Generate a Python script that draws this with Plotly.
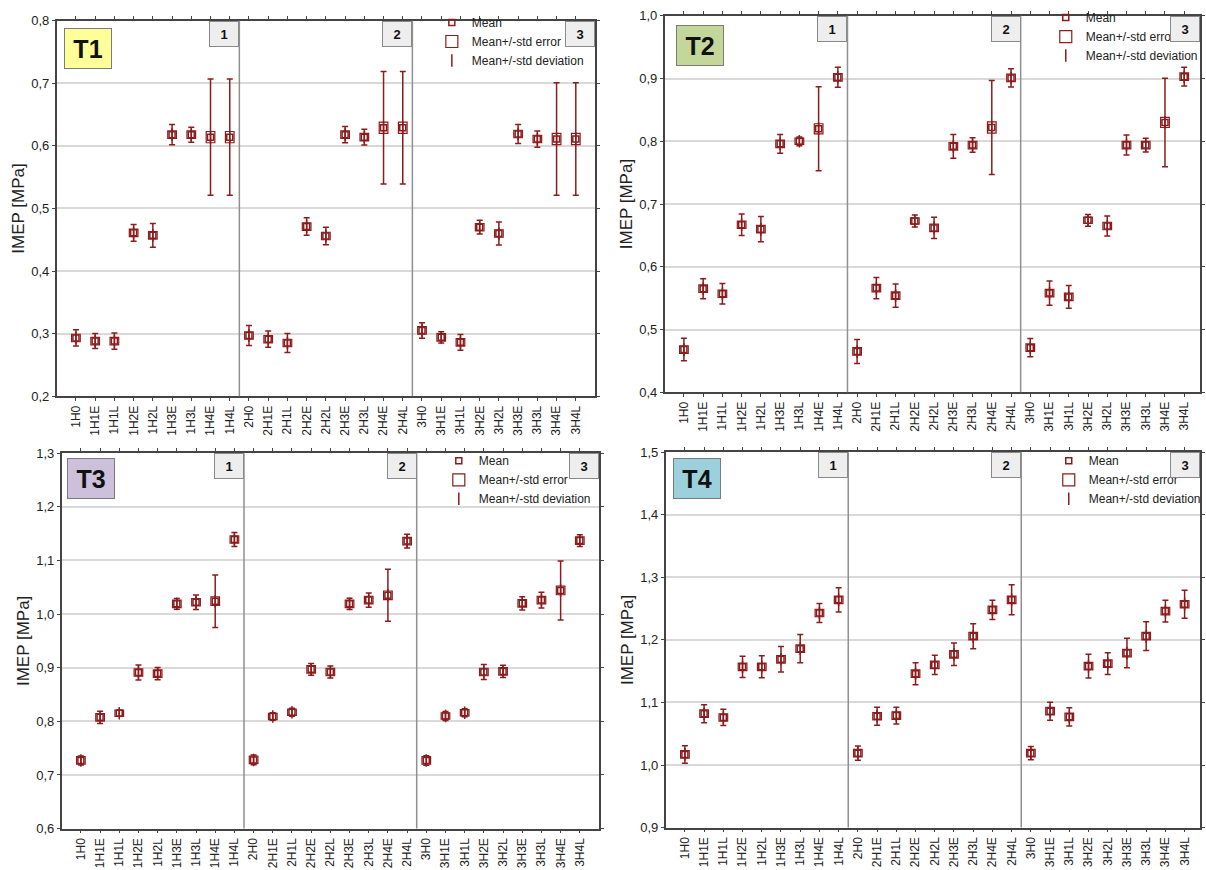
import plotly.graph_objects as go

categories = ["1H0", "1H1E", "1H1L", "1H2E", "1H2L", "1H3E", "1H3L", "1H4E", "1H4L",
              "2H0", "2H1E", "2H1L", "2H2E", "2H2L", "2H3E", "2H3L", "2H4E", "2H4L",
              "3H0", "3H1E", "3H1L", "3H2E", "3H2L", "3H3E", "3H3L", "3H4E", "3H4L"]
positions = list(range(27))
group_labels = ["1", "2", "3"]
panel_names = ["T1", "T2", "T3", "T4"]
panel_colors = ["#FFFF99", "#C4D79B", "#CCC0DA", "#9BD0DC"]
legend_names = ["Mean", "Mean+/-std error", "Mean+/-std deviation"]

t1_mean = [0.293, 0.288, 0.288, 0.461, 0.457, 0.618, 0.618, 0.614, 0.614,
           0.297, 0.291, 0.285, 0.471, 0.456, 0.618, 0.614, 0.629, 0.629,
           0.305, 0.294, 0.286, 0.470, 0.460, 0.619, 0.611, 0.611, 0.611]
t1_sd = [0.013, 0.012, 0.013, 0.0135, 0.019, 0.016, 0.012, 0.093, 0.093,
         0.016, 0.013, 0.015, 0.014, 0.014, 0.013, 0.0125, 0.090, 0.090,
         0.0125, 0.009, 0.0125, 0.011, 0.0185, 0.015, 0.013, 0.090, 0.090]
t1_se = [0.006, 0.006, 0.006, 0.006, 0.006, 0.006, 0.006, 0.009, 0.009,
         0.006, 0.006, 0.006, 0.006, 0.006, 0.006, 0.006, 0.009, 0.009,
         0.006, 0.006, 0.006, 0.006, 0.006, 0.006, 0.006, 0.009, 0.009]

t2_mean = [0.468, 0.565, 0.557, 0.667, 0.660, 0.796, 0.800, 0.820, 0.902,
           0.465, 0.566, 0.554, 0.673, 0.662, 0.792, 0.794, 0.822, 0.901,
           0.471, 0.558, 0.552, 0.674, 0.665, 0.794, 0.794, 0.830, 0.903]
t2_sd = [0.018, 0.016, 0.0165, 0.017, 0.020, 0.015, 0.007, 0.067, 0.016,
         0.019, 0.017, 0.0185, 0.0095, 0.017, 0.019, 0.0115, 0.075, 0.0145,
         0.0145, 0.0195, 0.018, 0.0095, 0.016, 0.016, 0.011, 0.0705, 0.015]
t2_se = [0.006, 0.006, 0.006, 0.006, 0.006, 0.006, 0.005, 0.008, 0.006,
         0.006, 0.006, 0.006, 0.005, 0.006, 0.006, 0.006, 0.009, 0.006,
         0.006, 0.006, 0.006, 0.005, 0.006, 0.006, 0.006, 0.008, 0.006]

t3_mean = [0.727, 0.8075, 0.815, 0.891, 0.889, 1.019, 1.022, 1.024, 1.139,
           0.728, 0.809, 0.817, 0.897, 0.892, 1.019, 1.026, 1.035, 1.136,
           0.727, 0.810, 0.816, 0.892, 0.893, 1.020, 1.026, 1.044, 1.137]
t3_sd = [0.0085, 0.0115, 0.0055, 0.014, 0.0115, 0.010, 0.0135, 0.049, 0.013,
         0.009, 0.007, 0.0075, 0.011, 0.011, 0.0105, 0.0135, 0.0485, 0.013,
         0.009, 0.0085, 0.0075, 0.014, 0.0115, 0.0125, 0.0145, 0.055, 0.011]
t3_se = [0.007, 0.007, 0.006, 0.007, 0.007, 0.007, 0.007, 0.008, 0.007,
         0.007, 0.006, 0.006, 0.007, 0.007, 0.007, 0.007, 0.008, 0.007,
         0.007, 0.006, 0.006, 0.007, 0.007, 0.007, 0.007, 0.008, 0.007]

t4_mean = [1.017, 1.082, 1.076, 1.157, 1.157, 1.169, 1.186, 1.243, 1.264,
           1.019, 1.078, 1.079, 1.146, 1.160, 1.177, 1.206, 1.248, 1.264,
           1.019, 1.086, 1.077, 1.158, 1.162, 1.179, 1.206, 1.246, 1.257]
t4_sd = [0.014, 0.0145, 0.013, 0.017, 0.0175, 0.0205, 0.0225, 0.015, 0.0195,
         0.0115, 0.0145, 0.0135, 0.0175, 0.0155, 0.018, 0.020, 0.0155, 0.024,
         0.0105, 0.0145, 0.0145, 0.019, 0.0175, 0.0235, 0.023, 0.0175, 0.0225]
t4_se = [0.006, 0.006, 0.006, 0.006, 0.006, 0.006, 0.006, 0.006, 0.006,
         0.006, 0.006, 0.006, 0.006, 0.006, 0.006, 0.006, 0.006, 0.006,
         0.006, 0.006, 0.006, 0.006, 0.006, 0.006, 0.006, 0.006, 0.006]

y_ranges = [[0.2, 0.8], [0.4, 1.0], [0.6, 1.3], [0.9, 1.5]]
x_ranges = [[-1, 27], [-1, 26.82], [-1, 27], [-1, 26.8]]

W, H = 1206, 870
# plot areas in pixels: (left, right, top, bottom)
boxes = [(57, 598, 14, 396), (668, 1206, 9, 392), (62, 602, 454, 836), (669, 1206, 453, 835)]
legend_pos = [(434, 1), (1051, -4), (441, 447), (1054, 447)]
tbox_pos = [(64, 21), (679, 18), (67, 459), (676, 459)]

DARK = "#8c1c1c"
FONT = "Arial, Liberation Sans, sans-serif"

data = [(t1_mean, t1_sd, t1_se), (t2_mean, t2_sd, t2_se),
        (t3_mean, t3_sd, t3_se), (t4_mean, t4_sd, t4_se)]

fig = go.Figure()
shapes = []
annotations = []
layout = dict(
    width=W, height=H, margin=dict(l=0, r=0, t=0, b=0),
    paper_bgcolor="white", plot_bgcolor="white",
    separators=",.", showlegend=True,
    font=dict(family=FONT, color="#222"),
)

for p in range(4):
    mean, sd, se = data[p]
    sfx = "" if p == 0 else str(p + 1)
    xa, ya = "x" + sfx, "y" + sfx
    leg = "legend" + sfx
    low = [m - s for m, s in zip(mean, se)]
    span = [2 * s for s in se]

    fig.add_trace(go.Bar(
        x=positions, y=span, base=low, width=0.45, name=legend_names[1],
        marker=dict(color="white", line=dict(color=DARK, width=1.2)),
        xaxis=xa, yaxis=ya, legend=leg, legendrank=2, hoverinfo="skip"))
    fig.add_trace(go.Scatter(
        x=positions, y=mean, mode="markers", name=legend_names[2],
        marker=dict(symbol="line-ns-open", size=9, color=DARK, line=dict(color=DARK, width=1.5)),
        error_y=dict(type="data", array=sd, visible=True, color=DARK, thickness=1.5, width=3),
        xaxis=xa, yaxis=ya, legend=leg, legendrank=3, hoverinfo="skip"))
    fig.add_trace(go.Scatter(
        x=positions, y=mean, mode="markers", name=legend_names[0],
        marker=dict(symbol="square-open", size=6, color=DARK, line=dict(color=DARK, width=1.5)),
        xaxis=xa, yaxis=ya, legend=leg, legendrank=1, hoverinfo="skip"))

    l, r, t, b = boxes[p]
    layout["xaxis" + sfx] = dict(
        domain=[l / W, r / W], anchor=ya, range=x_ranges[p],
        tickvals=positions, ticktext=categories, tickangle=-90,
        tickfont=dict(size=12, color="#222"), showgrid=False, zeroline=False,
        showline=True, linecolor="#444", linewidth=1.5, mirror="ticks",
        ticks="outside", ticklen=3, tickcolor="#444")
    layout["yaxis" + sfx] = dict(
        domain=[1 - b / H, 1 - t / H], anchor=xa, range=y_ranges[p], dtick=0.1,
        tickformat=".1f", tickfont=dict(size=13, color="#222"),
        showgrid=True, gridcolor="#d9d9d9", gridwidth=1.5, zeroline=False,
        showline=True, linecolor="#444", linewidth=1.5, mirror="ticks",
        ticks="outside", ticklen=3, tickcolor="#444",
        title=dict(text="IMEP [MPa]", font=dict(size=17, color="#222"), standoff=2))

    lx, ly = legend_pos[p]
    layout[leg] = dict(
        x=lx / W, y=1 - ly / H, xanchor="left", yanchor="top",
        bgcolor="rgba(0,0,0,0)", font=dict(size=12, color="#222"),
        tracegroupgap=0, itemwidth=30)

    for k in range(2):
        shapes.append(dict(type="line", xref=xa, yref=ya + " domain",
                           x0=8.5 + 9 * k, x1=8.5 + 9 * k, y0=0, y1=1,
                           line=dict(color="#909090", width=1.5)))
    for k in range(3):
        if k < 2:
            ax_x, ax_ref = 8.5 + 9 * k, xa
        else:
            ax_x, ax_ref = 1, xa + " domain"
        annotations.append(dict(
            text="<b>" + group_labels[k] + "</b>", xref=ax_ref, x=ax_x, xanchor="right",
            yref=ya + " domain", y=1, yanchor="top", showarrow=False,
            width=28, height=24, bgcolor="#EEEEEE", bordercolor="#8a8a8a",
            borderwidth=1, borderpad=0, font=dict(size=13, color="#111")))

    tx, ty = tbox_pos[p]
    annotations.append(dict(
        text="<b>" + panel_names[p] + "</b>", xref="paper", yref="paper",
        x=tx / W, y=1 - ty / H, xanchor="left", yanchor="top", showarrow=False,
        width=46, height=39, bgcolor=panel_colors[p], bordercolor="#7a7a7a",
        borderwidth=1, borderpad=0, font=dict(size=25, color="#111")))

layout["shapes"] = shapes
layout["annotations"] = annotations
fig.update_layout(**layout)

fig.write_html("out.html", config={"displayModeBar": False},
               post_script="document.body.style.margin='0';")
